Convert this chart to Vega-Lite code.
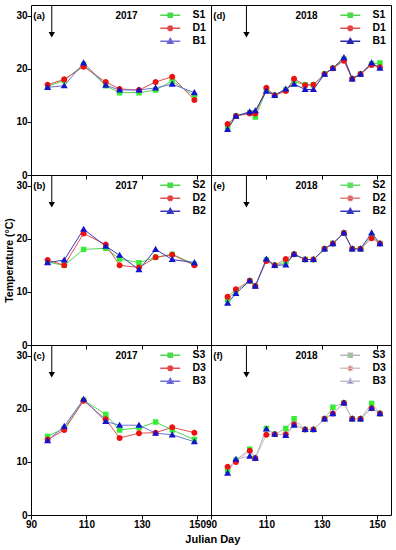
{
"$schema":"https://vega.github.io/schema/vega-lite/v6.json",
"datasets":{"T":[
{"p":"a","d":96,"S":16.7,"D":17.0,"B":16.5},
{"p":"a","d":102,"S":17.8,"D":18.0,"B":16.8},
{"p":"a","d":109,"S":20.8,"D":20.4,"B":21.1},
{"p":"a","d":117,"S":16.8,"D":17.5,"B":16.9},
{"p":"a","d":122,"S":15.5,"D":16.2,"B":16.0},
{"p":"a","d":129,"S":15.5,"D":16.0,"B":16.0},
{"p":"a","d":135,"S":16.0,"D":17.5,"B":16.4},
{"p":"a","d":141,"S":17.7,"D":18.5,"B":17.1},
{"p":"a","d":149,"S":14.9,"D":14.1,"B":15.5},
{"p":"b","d":96,"S":15.6,"D":16.0,"B":15.5},
{"p":"b","d":102,"S":15.0,"D":15.0,"B":16.0},
{"p":"b","d":109,"S":18.0,"D":21.0,"B":21.8},
{"p":"b","d":117,"S":18.2,"D":18.9,"B":18.6},
{"p":"b","d":122,"S":16.2,"D":15.0,"B":16.9},
{"p":"b","d":129,"S":15.5,"D":14.6,"B":14.2},
{"p":"b","d":135,"S":16.5,"D":16.5,"B":18.0},
{"p":"b","d":141,"S":17.1,"D":17.0,"B":16.1},
{"p":"b","d":149,"S":15.2,"D":15.0,"B":15.5},
{"p":"c","d":96,"S":14.8,"D":14.2,"B":14.0},
{"p":"c","d":102,"S":16.3,"D":16.0,"B":16.7},
{"p":"c","d":109,"S":21.6,"D":21.5,"B":21.8},
{"p":"c","d":117,"S":18.9,"D":18.0,"B":17.6},
{"p":"c","d":122,"S":16.0,"D":14.5,"B":16.9},
{"p":"c","d":129,"S":16.4,"D":15.4,"B":16.9},
{"p":"c","d":135,"S":17.5,"D":15.5,"B":15.4},
{"p":"c","d":141,"S":16.0,"D":16.5,"B":15.1},
{"p":"c","d":149,"S":14.2,"D":15.5,"B":13.8},
{"p":"d","d":96,"S":9.0,"D":9.6,"B":8.6},
{"p":"d","d":99,"S":11.1,"D":11.1,"B":11.1},
{"p":"d","d":104,"S":11.7,"D":11.6,"B":11.9},
{"p":"d","d":106,"S":10.9,"D":11.6,"B":12.1},
{"p":"d","d":110,"S":16.0,"D":16.4,"B":15.8},
{"p":"d","d":113,"S":15.0,"D":15.0,"B":15.0},
{"p":"d","d":117,"S":16.0,"D":15.8,"B":16.2},
{"p":"d","d":120,"S":17.6,"D":18.1,"B":17.1},
{"p":"d","d":124,"S":17.0,"D":16.9,"B":16.1},
{"p":"d","d":127,"S":17.0,"D":17.0,"B":16.1},
{"p":"d","d":131,"S":19.0,"D":19.0,"B":19.0},
{"p":"d","d":134,"S":20.1,"D":20.1,"B":20.1},
{"p":"d","d":138,"S":21.8,"D":21.5,"B":22.1},
{"p":"d","d":141,"S":18.1,"D":18.1,"B":18.1},
{"p":"d","d":144,"S":19.0,"D":19.0,"B":19.0},
{"p":"d","d":148,"S":20.9,"D":20.7,"B":21.1},
{"p":"d","d":151,"S":21.1,"D":20.3,"B":20.1},
{"p":"e","d":96,"S":8.5,"D":9.1,"B":7.9},
{"p":"e","d":99,"S":10.2,"D":10.5,"B":9.7},
{"p":"e","d":104,"S":12.1,"D":12.1,"B":12.1},
{"p":"e","d":106,"S":11.1,"D":11.1,"B":11.1},
{"p":"e","d":110,"S":16.0,"D":15.8,"B":16.2},
{"p":"e","d":113,"S":15.0,"D":15.0,"B":15.0},
{"p":"e","d":117,"S":15.6,"D":16.2,"B":15.1},
{"p":"e","d":120,"S":17.1,"D":17.1,"B":17.1},
{"p":"e","d":124,"S":16.1,"D":16.1,"B":16.1},
{"p":"e","d":127,"S":16.1,"D":16.1,"B":16.1},
{"p":"e","d":131,"S":18.1,"D":18.1,"B":18.1},
{"p":"e","d":134,"S":19.1,"D":19.1,"B":19.1},
{"p":"e","d":138,"S":21.1,"D":21.1,"B":21.1},
{"p":"e","d":141,"S":18.1,"D":18.1,"B":18.1},
{"p":"e","d":144,"S":18.1,"D":18.1,"B":18.1},
{"p":"e","d":148,"S":20.5,"D":20.1,"B":21.1},
{"p":"e","d":151,"S":19.1,"D":19.1,"B":19.1},
{"p":"f","d":96,"S":8.4,"D":9.1,"B":7.9},
{"p":"f","d":99,"S":10.3,"D":10.0,"B":10.5},
{"p":"f","d":104,"S":12.4,"D":12.1,"B":11.1},
{"p":"f","d":106,"S":10.7,"D":10.7,"B":10.7},
{"p":"f","d":110,"S":16.3,"D":15.1,"B":16.2},
{"p":"f","d":113,"S":15.2,"D":15.2,"B":15.2},
{"p":"f","d":117,"S":16.3,"D":15.2,"B":15.0},
{"p":"f","d":120,"S":18.1,"D":17.1,"B":16.9},
{"p":"f","d":124,"S":16.1,"D":16.1,"B":16.1},
{"p":"f","d":127,"S":16.1,"D":16.1,"B":16.1},
{"p":"f","d":131,"S":18.1,"D":18.1,"B":18.1},
{"p":"f","d":134,"S":20.3,"D":19.1,"B":19.1},
{"p":"f","d":138,"S":21.1,"D":21.1,"B":21.1},
{"p":"f","d":141,"S":18.1,"D":18.1,"B":18.1},
{"p":"f","d":144,"S":18.1,"D":18.1,"B":18.1},
{"p":"f","d":148,"S":21.0,"D":20.1,"B":20.1},
{"p":"f","d":151,"S":19.1,"D":19.1,"B":19.1}
]},
"title":{"text":"Julian Day","orient":"bottom","anchor":"middle","frame":"bounds","fontSize":11,"fontWeight":"bold","font":"Liberation Sans","color":"black","offset":4,"dx":14},
"padding":{"left":4,"top":4,"right":5,"bottom":5},
"columns":2,
"spacing":0,
"bounds":"flush",
"resolve":{"scale":{"color":"independent","fill":"independent","stroke":"independent","shape":"independent"},"legend":{"color":"independent","fill":"independent","stroke":"independent","shape":"independent"}},
"concat":[
{"width":180,"height":170,"data":{"name":"T"},"transform":[{"filter":"datum.p==='a'"},{"fold":["S","D","B"],"as":["s","t"]}],
 "layer":[
  {"mark":{"type":"line","strokeWidth":1},"encoding":{
    "x":{"field":"d","type":"quantitative","scale":{"domain":[90,155],"nice":false},"axis":{"values":[90,95,100,105,110,115,120,125,130,135,140,145,150],"labels":false,"title":null,"tickSize":{"condition":{"test":"datum.value % 10 === 0","value":4},"value":2}}},
    "y":{"field":"t","type":"quantitative","scale":{"domain":[0,32],"nice":false},"axis":{"values":[0,2.5,5,7.5,10,12.5,15,17.5,20,22.5,25,27.5,30],"labelExpr":"datum.value % 5 === 0 ? datum.label : ''","title":null,"tickSize":{"condition":{"test":"datum.value % 5 === 0","value":4},"value":2}}},
    "color":{"field":"s","type":"nominal","sort":["S","D","B"],"scale":{"range":["#4fd64f","#e05050","#7070d8"]},"legend":null}}},
  {"mark":{"type":"point","filled":true,"opacity":1,"size":30,"strokeWidth":0},"encoding":{
    "x":{"field":"d","type":"quantitative"},"y":{"field":"t","type":"quantitative"},
    "fill":{"field":"s","type":"nominal","scale":{"domain":["S","D","B"],"range":["#33ee33","#ee1111","#1414cc"]},"legend":{"title":null,"orient":"top-right","labelExpr":"datum.label + '1'","encode":{"symbols":{"strokeWidth":{"value":1}}}}},
    "stroke":{"field":"s","type":"nominal","scale":{"domain":["S","D","B"],"range":["#4fd64f","#e05050","#7070d8"]},"legend":{"title":null,"orient":"top-right","labelExpr":"datum.label + '1'","encode":{"symbols":{"strokeWidth":{"value":1}}}}},
    "shape":{"field":"s","type":"nominal","scale":{"domain":["S","D","B"],"range":["M-4.7,0L4.7,0M-1,-1L1,-1L1,1L-1,1Z","M-4.7,0L4.7,0M1.1,0A1.1,1.1,0,1,1,-1.1,0A1.1,1.1,0,1,1,1.1,0Z","M-4.7,0L4.7,0M0,-1.3L1.3,0.95L-1.3,0.95Z"]},"legend":{"title":null,"orient":"top-right","labelExpr":"datum.label + '1'","encode":{"symbols":{"strokeWidth":{"value":1}}}}}}},
  {"data":{"values":[{"lab":"(a)"}]},"mark":{"type":"text","align":"left","baseline":"middle","fontWeight":"bold","fontSize":9.5,"font":"Liberation Sans","color":"black"},"encoding":{"x":{"datum":90.8},"y":{"datum":30},"text":{"field":"lab"}}},
  {"data":{"values":[{"lab":"2017"}]},"mark":{"type":"text","align":"center","baseline":"middle","fontWeight":"bold","fontSize":10,"font":"Liberation Sans","color":"black"},"encoding":{"x":{"datum":124.5},"y":{"datum":30},"text":{"field":"lab"}}},
  {"data":{"values":[{"lab":"arrow"}]},"mark":{"type":"rule","strokeWidth":1,"color":"black"},"encoding":{"x":{"datum":97.5},"y":{"datum":32},"y2":{"datum":26.6}}},
  {"data":{"values":[{"lab":"arrow"}]},"mark":{"type":"point","shape":"triangle-down","filled":true,"opacity":1,"color":"black","size":40},"encoding":{"x":{"datum":97.5},"y":{"datum":26.4}}}
 ]},
{"width":180,"height":170,"data":{"name":"T"},"transform":[{"filter":"datum.p==='d'"},{"fold":["S","D","B"],"as":["s","t"]}],
 "layer":[
  {"mark":{"type":"line","strokeWidth":1},"encoding":{
    "x":{"field":"d","type":"quantitative","scale":{"domain":[90,155],"nice":false},"axis":{"values":[90,95,100,105,110,115,120,125,130,135,140,145,150],"labels":false,"title":null,"tickSize":{"condition":{"test":"datum.value % 10 === 0","value":4},"value":2}}},
    "y":{"field":"t","type":"quantitative","scale":{"domain":[0,32],"nice":false},"axis":null},
    "color":{"field":"s","type":"nominal","sort":["S","D","B"],"scale":{"range":["#4fd64f","#e05050","#2a2ab0"]},"legend":null}}},
  {"mark":{"type":"point","filled":true,"opacity":1,"size":30,"strokeWidth":0},"encoding":{
    "x":{"field":"d","type":"quantitative"},"y":{"field":"t","type":"quantitative"},
    "fill":{"field":"s","type":"nominal","scale":{"domain":["S","D","B"],"range":["#33ee33","#ee1111","#1414cc"]},"legend":{"title":null,"orient":"top-right","labelExpr":"datum.label + '1'","encode":{"symbols":{"strokeWidth":{"value":1}}}}},
    "stroke":{"field":"s","type":"nominal","scale":{"domain":["S","D","B"],"range":["#4fd64f","#e05050","#2a2ab0"]},"legend":{"title":null,"orient":"top-right","labelExpr":"datum.label + '1'","encode":{"symbols":{"strokeWidth":{"value":1}}}}},
    "shape":{"field":"s","type":"nominal","scale":{"domain":["S","D","B"],"range":["M-4.7,0L4.7,0M-1,-1L1,-1L1,1L-1,1Z","M-4.7,0L4.7,0M1.1,0A1.1,1.1,0,1,1,-1.1,0A1.1,1.1,0,1,1,1.1,0Z","M-4.7,0L4.7,0M0,-1.3L1.3,0.95L-1.3,0.95Z"]},"legend":{"title":null,"orient":"top-right","labelExpr":"datum.label + '1'","encode":{"symbols":{"strokeWidth":{"value":1}}}}}}},
  {"data":{"values":[{"lab":"(d)"}]},"mark":{"type":"text","align":"left","baseline":"middle","fontWeight":"bold","fontSize":9.5,"font":"Liberation Sans","color":"black"},"encoding":{"x":{"datum":90.8},"y":{"datum":30},"text":{"field":"lab"}}},
  {"data":{"values":[{"lab":"2018"}]},"mark":{"type":"text","align":"center","baseline":"middle","fontWeight":"bold","fontSize":10,"font":"Liberation Sans","color":"black"},"encoding":{"x":{"datum":124.5},"y":{"datum":30},"text":{"field":"lab"}}},
  {"data":{"values":[{"lab":"arrow"}]},"mark":{"type":"rule","strokeWidth":1,"color":"black"},"encoding":{"x":{"datum":102.8},"y":{"datum":32},"y2":{"datum":26.6}}},
  {"data":{"values":[{"lab":"arrow"}]},"mark":{"type":"point","shape":"triangle-down","filled":true,"opacity":1,"color":"black","size":40},"encoding":{"x":{"datum":102.8},"y":{"datum":26.4}}}
 ]},
{"width":180,"height":170,"data":{"name":"T"},"transform":[{"filter":"datum.p==='b'"},{"fold":["S","D","B"],"as":["s","t"]}],
 "layer":[
  {"mark":{"type":"line","strokeWidth":1},"encoding":{
    "x":{"field":"d","type":"quantitative","scale":{"domain":[90,155],"nice":false},"axis":{"values":[90,95,100,105,110,115,120,125,130,135,140,145,150],"labels":false,"title":null,"tickSize":{"condition":{"test":"datum.value % 10 === 0","value":4},"value":2}}},
    "y":{"field":"t","type":"quantitative","scale":{"domain":[0,32],"nice":false},"axis":{"values":[0,2.5,5,7.5,10,12.5,15,17.5,20,22.5,25,27.5,30],"labelExpr":"datum.value % 5 === 0 ? datum.label : ''","title":"Temperature (°C)","tickSize":{"condition":{"test":"datum.value % 5 === 0","value":4},"value":2}}},
    "color":{"field":"s","type":"nominal","sort":["S","D","B"],"scale":{"range":["#4fd64f","#e05050","#3a3ac0"]},"legend":null}}},
  {"mark":{"type":"point","filled":true,"opacity":1,"size":30,"strokeWidth":0},"encoding":{
    "x":{"field":"d","type":"quantitative"},"y":{"field":"t","type":"quantitative"},
    "fill":{"field":"s","type":"nominal","scale":{"domain":["S","D","B"],"range":["#33ee33","#ee1111","#1414cc"]},"legend":{"title":null,"orient":"top-right","labelExpr":"datum.label + '2'","encode":{"symbols":{"strokeWidth":{"value":1}}}}},
    "stroke":{"field":"s","type":"nominal","scale":{"domain":["S","D","B"],"range":["#4fd64f","#e05050","#3a3ac0"]},"legend":{"title":null,"orient":"top-right","labelExpr":"datum.label + '2'","encode":{"symbols":{"strokeWidth":{"value":1}}}}},
    "shape":{"field":"s","type":"nominal","scale":{"domain":["S","D","B"],"range":["M-4.7,0L4.7,0M-1,-1L1,-1L1,1L-1,1Z","M-4.7,0L4.7,0M1.1,0A1.1,1.1,0,1,1,-1.1,0A1.1,1.1,0,1,1,1.1,0Z","M-4.7,0L4.7,0M0,-1.3L1.3,0.95L-1.3,0.95Z"]},"legend":{"title":null,"orient":"top-right","labelExpr":"datum.label + '2'","encode":{"symbols":{"strokeWidth":{"value":1}}}}}}},
  {"data":{"values":[{"lab":"(b)"}]},"mark":{"type":"text","align":"left","baseline":"middle","fontWeight":"bold","fontSize":9.5,"font":"Liberation Sans","color":"black"},"encoding":{"x":{"datum":90.8},"y":{"datum":30},"text":{"field":"lab"}}},
  {"data":{"values":[{"lab":"2017"}]},"mark":{"type":"text","align":"center","baseline":"middle","fontWeight":"bold","fontSize":10,"font":"Liberation Sans","color":"black"},"encoding":{"x":{"datum":124.5},"y":{"datum":30},"text":{"field":"lab"}}},
  {"data":{"values":[{"lab":"arrow"}]},"mark":{"type":"rule","strokeWidth":1,"color":"black"},"encoding":{"x":{"datum":97.5},"y":{"datum":32},"y2":{"datum":26.6}}},
  {"data":{"values":[{"lab":"arrow"}]},"mark":{"type":"point","shape":"triangle-down","filled":true,"opacity":1,"color":"black","size":40},"encoding":{"x":{"datum":97.5},"y":{"datum":26.4}}}
 ]},
{"width":180,"height":170,"data":{"name":"T"},"transform":[{"filter":"datum.p==='e'"},{"fold":["S","D","B"],"as":["s","t"]}],
 "layer":[
  {"mark":{"type":"line","strokeWidth":1},"encoding":{
    "x":{"field":"d","type":"quantitative","scale":{"domain":[90,155],"nice":false},"axis":{"values":[90,95,100,105,110,115,120,125,130,135,140,145,150],"labels":false,"title":null,"tickSize":{"condition":{"test":"datum.value % 10 === 0","value":4},"value":2}}},
    "y":{"field":"t","type":"quantitative","scale":{"domain":[0,32],"nice":false},"axis":null},
    "color":{"field":"s","type":"nominal","sort":["S","D","B"],"scale":{"range":["#66dd66","#e08080","#3a3ac0"]},"legend":null}}},
  {"mark":{"type":"point","filled":true,"opacity":1,"size":30,"strokeWidth":0},"encoding":{
    "x":{"field":"d","type":"quantitative"},"y":{"field":"t","type":"quantitative"},
    "fill":{"field":"s","type":"nominal","scale":{"domain":["S","D","B"],"range":["#33ee33","#ee1111","#1414cc"]},"legend":{"title":null,"orient":"top-right","labelExpr":"datum.label + '2'","encode":{"symbols":{"strokeWidth":{"value":1}}}}},
    "stroke":{"field":"s","type":"nominal","scale":{"domain":["S","D","B"],"range":["#66dd66","#e08080","#3a3ac0"]},"legend":{"title":null,"orient":"top-right","labelExpr":"datum.label + '2'","encode":{"symbols":{"strokeWidth":{"value":1}}}}},
    "shape":{"field":"s","type":"nominal","scale":{"domain":["S","D","B"],"range":["M-4.7,0L4.7,0M-1,-1L1,-1L1,1L-1,1Z","M-4.7,0L4.7,0M1.1,0A1.1,1.1,0,1,1,-1.1,0A1.1,1.1,0,1,1,1.1,0Z","M-4.7,0L4.7,0M0,-1.3L1.3,0.95L-1.3,0.95Z"]},"legend":{"title":null,"orient":"top-right","labelExpr":"datum.label + '2'","encode":{"symbols":{"strokeWidth":{"value":1}}}}}}},
  {"data":{"values":[{"lab":"(e)"}]},"mark":{"type":"text","align":"left","baseline":"middle","fontWeight":"bold","fontSize":9.5,"font":"Liberation Sans","color":"black"},"encoding":{"x":{"datum":90.8},"y":{"datum":30},"text":{"field":"lab"}}},
  {"data":{"values":[{"lab":"2018"}]},"mark":{"type":"text","align":"center","baseline":"middle","fontWeight":"bold","fontSize":10,"font":"Liberation Sans","color":"black"},"encoding":{"x":{"datum":124.5},"y":{"datum":30},"text":{"field":"lab"}}},
  {"data":{"values":[{"lab":"arrow"}]},"mark":{"type":"rule","strokeWidth":1,"color":"black"},"encoding":{"x":{"datum":102.8},"y":{"datum":32},"y2":{"datum":26.6}}},
  {"data":{"values":[{"lab":"arrow"}]},"mark":{"type":"point","shape":"triangle-down","filled":true,"opacity":1,"color":"black","size":40},"encoding":{"x":{"datum":102.8},"y":{"datum":26.4}}}
 ]},
{"width":180,"height":170,"data":{"name":"T"},"transform":[{"filter":"datum.p==='c'"},{"fold":["S","D","B"],"as":["s","t"]}],
 "layer":[
  {"mark":{"type":"line","strokeWidth":1},"encoding":{
    "x":{"field":"d","type":"quantitative","scale":{"domain":[90,155],"nice":false},"axis":{"values":[90,95,100,105,110,115,120,125,130,135,140,145,150],"labelExpr":"datum.value % 10 === 0 ? datum.label : ''","title":null,"tickSize":{"condition":{"test":"datum.value % 10 === 0","value":4},"value":2}}},
    "y":{"field":"t","type":"quantitative","scale":{"domain":[0,32],"nice":false},"axis":{"values":[0,2.5,5,7.5,10,12.5,15,17.5,20,22.5,25,27.5,30],"labelExpr":"datum.value % 5 === 0 ? datum.label : ''","title":null,"tickSize":{"condition":{"test":"datum.value % 5 === 0","value":4},"value":2}}},
    "color":{"field":"s","type":"nominal","sort":["S","D","B"],"scale":{"range":["#4fd64f","#e05050","#7070d8"]},"legend":null}}},
  {"mark":{"type":"point","filled":true,"opacity":1,"size":30,"strokeWidth":0},"encoding":{
    "x":{"field":"d","type":"quantitative"},"y":{"field":"t","type":"quantitative"},
    "fill":{"field":"s","type":"nominal","scale":{"domain":["S","D","B"],"range":["#33ee33","#ee1111","#1414cc"]},"legend":{"title":null,"orient":"top-right","labelExpr":"datum.label + '3'","encode":{"symbols":{"strokeWidth":{"value":1}}}}},
    "stroke":{"field":"s","type":"nominal","scale":{"domain":["S","D","B"],"range":["#4fd64f","#e05050","#7070d8"]},"legend":{"title":null,"orient":"top-right","labelExpr":"datum.label + '3'","encode":{"symbols":{"strokeWidth":{"value":1}}}}},
    "shape":{"field":"s","type":"nominal","scale":{"domain":["S","D","B"],"range":["M-4.7,0L4.7,0M-1,-1L1,-1L1,1L-1,1Z","M-4.7,0L4.7,0M1.1,0A1.1,1.1,0,1,1,-1.1,0A1.1,1.1,0,1,1,1.1,0Z","M-4.7,0L4.7,0M0,-1.3L1.3,0.95L-1.3,0.95Z"]},"legend":{"title":null,"orient":"top-right","labelExpr":"datum.label + '3'","encode":{"symbols":{"strokeWidth":{"value":1}}}}}}},
  {"data":{"values":[{"lab":"(c)"}]},"mark":{"type":"text","align":"left","baseline":"middle","fontWeight":"bold","fontSize":9.5,"font":"Liberation Sans","color":"black"},"encoding":{"x":{"datum":90.8},"y":{"datum":30},"text":{"field":"lab"}}},
  {"data":{"values":[{"lab":"2017"}]},"mark":{"type":"text","align":"center","baseline":"middle","fontWeight":"bold","fontSize":10,"font":"Liberation Sans","color":"black"},"encoding":{"x":{"datum":124.5},"y":{"datum":30},"text":{"field":"lab"}}},
  {"data":{"values":[{"lab":"arrow"}]},"mark":{"type":"rule","strokeWidth":1,"color":"black"},"encoding":{"x":{"datum":97.5},"y":{"datum":32},"y2":{"datum":26.6}}},
  {"data":{"values":[{"lab":"arrow"}]},"mark":{"type":"point","shape":"triangle-down","filled":true,"opacity":1,"color":"black","size":40},"encoding":{"x":{"datum":97.5},"y":{"datum":26.4}}}
 ]},
{"width":180,"height":170,"data":{"name":"T"},"transform":[{"filter":"datum.p==='f'"},{"fold":["S","D","B"],"as":["s","t"]}],
 "layer":[
  {"mark":{"type":"line","strokeWidth":1},"encoding":{
    "x":{"field":"d","type":"quantitative","scale":{"domain":[90,155],"nice":false},"axis":{"values":[90,95,100,105,110,115,120,125,130,135,140,145,150],"labelExpr":"datum.value % 10 === 0 ? datum.label : ''","title":null,"tickSize":{"condition":{"test":"datum.value % 10 === 0","value":4},"value":2}}},
    "y":{"field":"t","type":"quantitative","scale":{"domain":[0,32],"nice":false},"axis":null},
    "color":{"field":"s","type":"nominal","sort":["S","D","B"],"scale":{"range":["#b8b8b8","#d8c0c0","#c0c0d0"]},"legend":null}}},
  {"mark":{"type":"point","filled":true,"opacity":1,"size":30,"strokeWidth":0},"encoding":{
    "x":{"field":"d","type":"quantitative"},"y":{"field":"t","type":"quantitative"},
    "fill":{"field":"s","type":"nominal","scale":{"domain":["S","D","B"],"range":["#33ee33","#ee1111","#1414cc"]},"legend":{"title":null,"orient":"top-right","labelExpr":"datum.label + '3'","encode":{"symbols":{"strokeWidth":{"value":1}}}}},
    "stroke":{"field":"s","type":"nominal","scale":{"domain":["S","D","B"],"range":["#b8b8b8","#d8c0c0","#c0c0d0"]},"legend":{"title":null,"orient":"top-right","labelExpr":"datum.label + '3'","encode":{"symbols":{"strokeWidth":{"value":1}}}}},
    "shape":{"field":"s","type":"nominal","scale":{"domain":["S","D","B"],"range":["M-4.7,0L4.7,0M-1,-1L1,-1L1,1L-1,1Z","M-4.7,0L4.7,0M1.1,0A1.1,1.1,0,1,1,-1.1,0A1.1,1.1,0,1,1,1.1,0Z","M-4.7,0L4.7,0M0,-1.3L1.3,0.95L-1.3,0.95Z"]},"legend":{"title":null,"orient":"top-right","labelExpr":"datum.label + '3'","encode":{"symbols":{"strokeWidth":{"value":1}}}}}}},
  {"data":{"values":[{"lab":"(f)"}]},"mark":{"type":"text","align":"left","baseline":"middle","fontWeight":"bold","fontSize":9.5,"font":"Liberation Sans","color":"black"},"encoding":{"x":{"datum":90.8},"y":{"datum":30},"text":{"field":"lab"}}},
  {"data":{"values":[{"lab":"2018"}]},"mark":{"type":"text","align":"center","baseline":"middle","fontWeight":"bold","fontSize":10,"font":"Liberation Sans","color":"black"},"encoding":{"x":{"datum":124.5},"y":{"datum":30},"text":{"field":"lab"}}},
  {"data":{"values":[{"lab":"arrow"}]},"mark":{"type":"rule","strokeWidth":1,"color":"black"},"encoding":{"x":{"datum":102.8},"y":{"datum":32},"y2":{"datum":26.6}}},
  {"data":{"values":[{"lab":"arrow"}]},"mark":{"type":"point","shape":"triangle-down","filled":true,"opacity":1,"color":"black","size":40},"encoding":{"x":{"datum":102.8},"y":{"datum":26.4}}}
 ]}
],
"config":{
 "font":"Liberation Sans",
 "view":{"stroke":"black","strokeWidth":1},
 "axis":{"domain":false,"grid":false,"labelFont":"Liberation Sans","labelFontSize":10,"labelFontWeight":"bold","labelColor":"black","labelFlush":false,"labelOverlap":false,"labelPadding":0,"tickColor":"black","tickWidth":1,"titleFont":"Liberation Sans","titleFontSize":10.5,"titleFontWeight":"bold","titleColor":"black","titlePadding":1},
 "legend":{"offset":5,"padding":0,"symbolSize":18,"labelOffset":17,"rowPadding":1,"labelFont":"Liberation Sans","labelFontSize":10.5,"labelFontWeight":"bold","labelColor":"black"}
}
}
